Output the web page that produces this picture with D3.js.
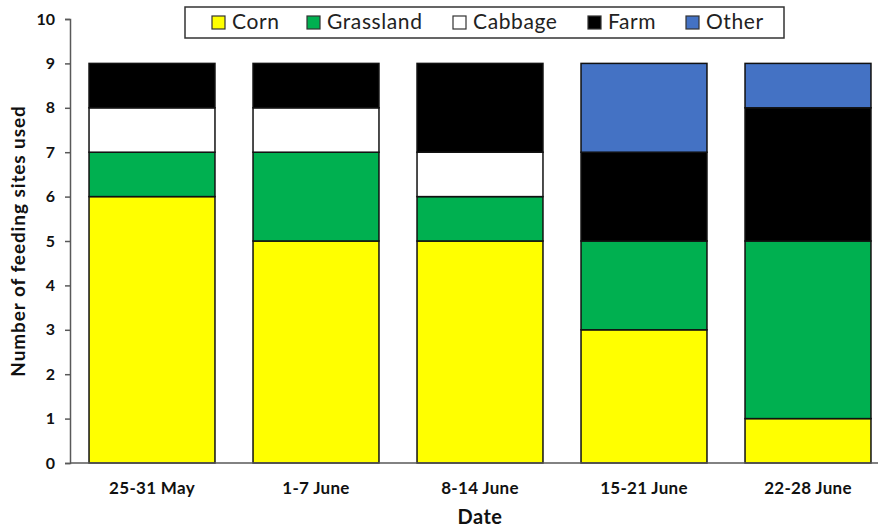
<!DOCTYPE html>
<html>
<head>
<meta charset="utf-8">
<script src="https://cdn.jsdelivr.net/npm/d3@7"></script>
<style>
  body { margin: 0; background: #fff; }
  text { font-family: Lato, "Open Sans", sans-serif; }
</style>
</head>
<body>
<svg></svg>
<script>
const dates = ['25-31 May', '1-7 June', '8-14 June', '15-21 June', '22-28 June'];
const seriesNames = ['Corn', 'Grassland', 'Cabbage', 'Farm', 'Other'];
const corn = [6, 5, 5, 3, 1];
const grassland = [1, 2, 1, 2, 4];
const cabbage = [1, 1, 1, 0, 0];
const farm = [1, 1, 2, 2, 3];
const other = [0, 0, 0, 2, 1];
const yTicks = [0, 1, 2, 3, 4, 5, 6, 7, 8, 9, 10];
const colors = ['#ffff00', '#00b050', '#ffffff', '#000000', '#4472c4'];

const width = 878;
const height = 529;
const plotLeft = 70;
const plotTop = 19;
const plotBottom = 463;

const svg = d3.select('svg')
    .attr('width', width)
    .attr('height', height);

const rows = dates.map((d, i) => ({
  date: d,
  Corn: corn[i],
  Grassland: grassland[i],
  Cabbage: cabbage[i],
  Farm: farm[i],
  Other: other[i]
}));

const stack = d3.stack().keys(seriesNames)(rows);

const x = d3.scaleBand()
    .domain(dates)
    .range([plotLeft, plotLeft + 820])
    .paddingInner(0.232)
    .paddingOuter(0.116);

const y = d3.scaleLinear()
    .domain([0, 10])
    .range([plotBottom, plotTop]);

const color = d3.scaleOrdinal().domain(seriesNames).range(colors);

// bars
svg.append('g')
  .selectAll('g')
  .data(stack)
  .join('g')
    .attr('fill', d => color(d.key))
  .selectAll('rect')
  .data(d => d.filter(s => s[1] > s[0]))
  .join('rect')
    .attr('x', d => x(d.data.date))
    .attr('y', d => y(d[1]))
    .attr('width', x.bandwidth())
    .attr('height', d => y(d[0]) - y(d[1]))
    .attr('stroke', '#111')
    .attr('stroke-width', 1.5);

// y axis
const yAxis = svg.append('g')
    .attr('transform', `translate(${plotLeft},0)`)
    .call(d3.axisLeft(y).tickValues(yTicks).tickSize(5).tickPadding(10).tickFormat(d3.format('d')));
yAxis.select('.domain').attr('stroke', '#595959').attr('stroke-width', 1.5);
yAxis.selectAll('.tick line').attr('stroke', '#595959').attr('stroke-width', 1.5);
yAxis.selectAll('text')
    .attr('font-size', 16)
    .attr('font-weight', 'bold')
    .attr('fill', '#111');

// x axis
const xAxis = svg.append('g')
    .attr('transform', `translate(0,${plotBottom})`)
    .call(d3.axisBottom(x).tickSize(0).tickPadding(19));
xAxis.select('.domain').attr('d', `M${plotLeft},0H${width}`).attr('stroke', '#595959').attr('stroke-width', 1.5);
xAxis.selectAll('text')
    .attr('font-size', 17)
    .attr('font-weight', 'bold')
    .attr('letter-spacing', 0.3)
    .attr('fill', '#111');

// axis titles
svg.append('text')
    .attr('transform', `translate(25,${(plotTop + plotBottom) / 2}) rotate(-90)`)
    .attr('text-anchor', 'middle')
    .attr('font-size', 19)
    .attr('font-weight', 'bold')
    .attr('letter-spacing', 0.9)
    .attr('fill', '#111')
    .text('Number of feeding sites used');

svg.append('text')
    .attr('x', 480)
    .attr('y', 524)
    .attr('text-anchor', 'middle')
    .attr('font-size', 20)
    .attr('font-weight', 'bold')
    .attr('letter-spacing', 0.5)
    .attr('fill', '#111')
    .text('Date');

// legend
const legendX = [212, 307, 453, 588, 686];
const legend = svg.append('g');
legend.append('rect')
    .attr('x', 185)
    .attr('y', 7)
    .attr('width', 599)
    .attr('height', 31)
    .attr('fill', '#fff')
    .attr('stroke', '#333')
    .attr('stroke-width', 1.5);

const items = legend.selectAll('g.item')
  .data(seriesNames)
  .join('g')
    .attr('class', 'item')
    .attr('transform', (d, i) => `translate(${legendX[i]},16)`);
items.append('rect')
    .attr('width', 13)
    .attr('height', 13)
    .attr('fill', d => color(d))
    .attr('stroke', '#333')
    .attr('stroke-width', 1.2);
items.append('text')
    .attr('x', 20)
    .attr('y', 13)
    .attr('font-size', 21)
    .attr('letter-spacing', 0.6)
    .attr('fill', '#222')
    .text(d => d);
</script>
</body>
</html>
